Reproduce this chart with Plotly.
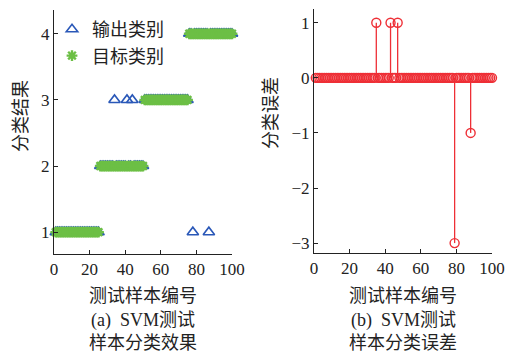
import plotly.graph_objects as go

# ---------------- data ----------------
sample_index = list(range(1, 101))

target_class = [
    1, 1, 1, 1, 1, 1, 1, 1, 1, 1, 1, 1, 1, 1, 1, 1, 1, 1, 1, 1, 1, 1, 1, 1, 1,
    2, 2, 2, 2, 2, 2, 2, 2, 2, 2, 2, 2, 2, 2, 2, 2, 2, 2, 2, 2, 2, 2, 2, 2, 2,
    3, 3, 3, 3, 3, 3, 3, 3, 3, 3, 3, 3, 3, 3, 3, 3, 3, 3, 3, 3, 3, 3, 3, 3, 3,
    4, 4, 4, 4, 4, 4, 4, 4, 4, 4, 4, 4, 4, 4, 4, 4, 4, 4, 4, 4, 4, 4, 4, 4, 4,
]

# samples 34, 41, 44 -> 3 ; samples 78, 87 -> 1
output_class = [
    1, 1, 1, 1, 1, 1, 1, 1, 1, 1, 1, 1, 1, 1, 1, 1, 1, 1, 1, 1, 1, 1, 1, 1, 1,
    2, 2, 2, 2, 2, 2, 2, 2, 3, 2, 2, 2, 2, 2, 2, 3, 2, 2, 3, 2, 2, 2, 2, 2, 2,
    3, 3, 3, 3, 3, 3, 3, 3, 3, 3, 3, 3, 3, 3, 3, 3, 3, 3, 3, 3, 3, 3, 3, 3, 3,
    4, 4, 1, 4, 4, 4, 4, 4, 4, 4, 4, 1, 4, 4, 4, 4, 4, 4, 4, 4, 4, 4, 4, 4, 4,
]

# samples 35, 44, 48 -> +1 ; sample 79 -> -3 ; sample 88 -> -1
class_error = [
    0, 0, 0, 0, 0, 0, 0, 0, 0, 0, 0, 0, 0, 0, 0, 0, 0, 0, 0, 0, 0, 0, 0, 0, 0,
    0, 0, 0, 0, 0, 0, 0, 0, 0, 1, 0, 0, 0, 0, 0, 0, 0, 1, 0, 0, 0, 1, 0, 0, 0,
    0, 0, 0, 0, 0, 0, 0, 0, 0, 0, 0, 0, 0, 0, 0, 0, 0, 0, 0, 0, 0, 0, 0, 0, 0,
    0, 0, 0, -3, 0, 0, 0, 0, 0, 0, 0, 0, -1, 0, 0, 0, 0, 0, 0, 0, 0, 0, 0, 0, 0,
]

x_ticks = [0, 20, 40, 60, 80, 100]
y_ticks_left = [1, 2, 3, 4]
y_ticks_right = [-3, -2, -1, 0, 1]

# ---------------- style ----------------
BLUE = "#2a58b8"
GREEN = "#6cbf45"
RED = "#ee2f36"
AX = "#222222"
FONT = "Liberation Serif, Noto Sans CJK SC"

W, H = 509, 354

fig = go.Figure()

# left: classification results
fig.add_trace(go.Scatter(
    x=sample_index, y=output_class, mode="markers", name="输出类别",
    marker=dict(symbol="triangle-up-open", size=10, color=BLUE,
                line=dict(color=BLUE, width=1.6)),
    xaxis="x", yaxis="y", cliponaxis=False,
))
fig.add_trace(go.Scatter(
    x=sample_index, y=target_class, mode="markers", name="目标类别",
    marker=dict(symbol="asterisk-open", size=9, color=GREEN,
                line=dict(color=GREEN, width=2.4)),
    xaxis="x", yaxis="y", cliponaxis=False,
))

# right: stem plot of error
stem_x, stem_y = [], []
for xi, ei in zip(sample_index, class_error):
    stem_x += [xi, xi, None]
    stem_y += [0, ei, None]
fig.add_trace(go.Scatter(
    x=stem_x, y=stem_y, mode="lines", line=dict(color=RED, width=1.3),
    xaxis="x2", yaxis="y2", showlegend=False, hoverinfo="skip",
))
fig.add_trace(go.Scatter(
    x=sample_index, y=class_error, mode="markers",
    marker=dict(symbol="circle-open", size=9, color=RED,
                line=dict(color=RED, width=1.4)),
    xaxis="x2", yaxis="y2", showlegend=False, cliponaxis=False,
))

def px_x(p):
    return p / W

def px_y(p):
    return 1 - p / H

axis_common = dict(
    showgrid=False, zeroline=False, showline=True, linecolor=AX, linewidth=1,
    ticks="inside", ticklen=4, tickcolor=AX, tickwidth=1, automargin=False,
    tickfont=dict(family=FONT, size=17, color=AX),
)

fig.update_layout(
    width=W, height=H,
    margin=dict(l=0, r=0, t=0, b=0, autoexpand=False),
    paper_bgcolor="white", plot_bgcolor="white",
    font=dict(family=FONT, color=AX),
    xaxis=dict(domain=[px_x(54), px_x(232)], range=[0, 100], tickvals=x_ticks,
               anchor="y", **axis_common),
    yaxis=dict(domain=[px_y(254), px_y(10)], range=[0.67, 4.36], tickvals=y_ticks_left,
               anchor="x", **axis_common),
    xaxis2=dict(domain=[px_x(314), px_x(492)], range=[0, 100], tickvals=x_ticks,
                anchor="y2", **axis_common),
    yaxis2=dict(domain=[px_y(253), px_y(9)], range=[-3.18, 1.25], tickvals=y_ticks_right,
                anchor="x2", **axis_common),
    legend=dict(
        x=px_x(52), y=px_y(11), xanchor="left", yanchor="top",
        bgcolor="rgba(0,0,0,0)", borderwidth=0,
        font=dict(family=FONT, size=18, color=AX),
        itemwidth=30, tracegroupgap=0,
    ),
    showlegend=True,
)

annos = [
    ("测试样本编号", 143, 296, 0, 18),
    ("(a)  SVM测试", 143, 320, 0, 18),
    ("样本分类效果", 143, 343, 0, 18),
    ("测试样本编号", 403, 296, 0, 18),
    ("(b)  SVM测试", 403, 320, 0, 18),
    ("样本分类误差", 403, 343, 0, 18),
    ("分类结果", 21, 116, -90, 18),
    ("分类误差", 271, 113, -90, 18),
]
for text, cx, cy, ang, sz in annos:
    fig.add_annotation(
        text=text, x=px_x(cx), y=px_y(cy), xref="paper", yref="paper",
        xanchor="center", yanchor="middle", showarrow=False, textangle=ang,
        font=dict(family=FONT, size=sz, color=AX),
    )

fig.write_html(
    "out.html",
    config={"displayModeBar": False},
    post_script="document.body.style.margin='0';document.body.style.overflow='hidden';",
)
